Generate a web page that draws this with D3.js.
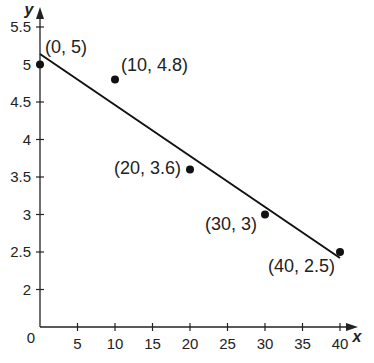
<!DOCTYPE html>
<html>
<head>
<meta charset="utf-8">
<script src="https://cdn.jsdelivr.net/npm/d3@7"></script>
<style>
  body { margin: 0; background: #fff; }
  text { font-family: "Liberation Sans", Arial, sans-serif; fill: #222; }
</style>
</head>
<body>
<div id="chart"></div>
<script>
// points
const xs = [0, 10, 20, 30, 40];
const ys = [5, 4.8, 3.6, 3, 2.5];
const pointLabels = ["(0, 5)", "(10, 4.8)", "(20, 3.6)", "(30, 3)", "(40, 2.5)"];
// fitted line endpoints
const lineX = [0, 40];
const lineY = [5.14, 2.42];
const xTicks = [5, 10, 15, 20, 25, 30, 35, 40];
const yTicks = [2, 2.5, 3, 3.5, 4, 4.5, 5, 5.5];

const width = 374, height = 363;
const svg = d3.select("#chart").append("svg")
  .attr("width", width).attr("height", height);

const x = d3.scaleLinear().domain([0, 40]).range([40, 340]);
const y = d3.scaleLinear().domain([1.5, 5.5]).range([327, 27]);

const ink = "#222";

// x axis with arrow
svg.append("line")
  .attr("x1", x(0)).attr("x2", 350)
  .attr("y1", y(1.5)).attr("y2", y(1.5))
  .attr("stroke", ink).attr("stroke-width", 1.3);
svg.append("path")
  .attr("d", `M358,${y(1.5)} L346,${y(1.5) - 4} L346,${y(1.5) + 4} Z`)
  .attr("fill", ink);

// y axis with arrow
svg.append("line")
  .attr("x1", x(0)).attr("x2", x(0))
  .attr("y1", y(1.5)).attr("y2", 17)
  .attr("stroke", ink).attr("stroke-width", 1.3);
svg.append("path")
  .attr("d", `M${x(0)},7 L${x(0) - 4},19 L${x(0) + 4},19 Z`)
  .attr("fill", ink);

// x ticks
const xt = svg.append("g").selectAll("g").data(xTicks).enter().append("g");
xt.append("line")
  .attr("x1", d => x(d)).attr("x2", d => x(d))
  .attr("y1", y(1.5) - 4).attr("y2", y(1.5) + 4)
  .attr("stroke", ink).attr("stroke-width", 1.2);
xt.append("text")
  .attr("x", d => x(d)).attr("y", y(1.5) + 22)
  .attr("text-anchor", "middle").attr("font-size", 15)
  .text(d => d);

// y ticks
const yt = svg.append("g").selectAll("g").data(yTicks).enter().append("g");
yt.append("line")
  .attr("x1", x(0) - 4).attr("x2", x(0) + 4)
  .attr("y1", d => y(d)).attr("y2", d => y(d))
  .attr("stroke", ink).attr("stroke-width", 1.2);
yt.append("text")
  .attr("x", x(0) - 9).attr("y", d => y(d) + 5)
  .attr("text-anchor", "end").attr("font-size", 15)
  .text(d => d);

// origin label
svg.append("text")
  .attr("x", 31).attr("y", y(1.5) + 16)
  .attr("text-anchor", "middle").attr("font-size", 15)
  .text("0");

// axis names
svg.append("text")
  .attr("x", 29).attr("y", 15)
  .attr("text-anchor", "middle").attr("font-size", 16)
  .attr("font-style", "italic").attr("font-weight", "bold")
  .text("y");
svg.append("text")
  .attr("x", 357).attr("y", y(1.5) + 15)
  .attr("text-anchor", "middle").attr("font-size", 16)
  .attr("font-style", "italic").attr("font-weight", "bold")
  .text("x");

// regression line
svg.append("path")
  .datum(lineX.map((d, i) => [d, lineY[i]]))
  .attr("d", d3.line().x(d => x(d[0])).y(d => y(d[1])))
  .attr("fill", "none").attr("stroke", "#111").attr("stroke-width", 2);

// points
svg.append("g").selectAll("circle").data(xs).enter().append("circle")
  .attr("cx", d => x(d)).attr("cy", (d, i) => y(ys[i]))
  .attr("r", 4).attr("fill", "#111");

// point labels
const labelPos = [
  { dx: 5, dy: -12, anchor: "start" },
  { dx: 6, dy: -9, anchor: "start" },
  { dx: -9, dy: 4, anchor: "end" },
  { dx: -8, dy: 15, anchor: "end" },
  { dx: -5, dy: 20, anchor: "end" }
];
svg.append("g").selectAll("text").data(pointLabels).enter().append("text")
  .attr("x", (d, i) => x(xs[i]) + labelPos[i].dx)
  .attr("y", (d, i) => y(ys[i]) + labelPos[i].dy)
  .attr("text-anchor", (d, i) => labelPos[i].anchor)
  .attr("font-size", 18)
  .text(d => d);
</script>
</body>
</html>
